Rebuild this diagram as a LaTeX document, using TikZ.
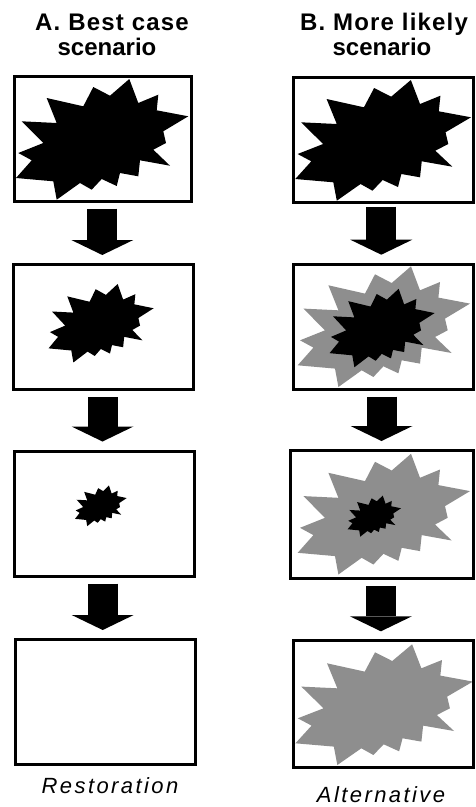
\documentclass[tikz,border=0pt]{standalone}
\usepackage{fontspec}
\setmainfont{Liberation Sans}
\usetikzlibrary{arrows.meta}
\definecolor{burstgray}{RGB}{142,142,142}
\tikzset{
  panel/.style={draw, line width=3pt, minimum width=180pt, minimum height=125pt, inner sep=0pt},
  flow/.style={line width=30pt, -{Triangle[width=62pt,length=15pt,line width=0pt]}, shorten <=6pt, shorten >=8pt},
  titleA/.style={font=\fontsize{24}{26}\selectfont\bfseries\addfontfeature{LetterSpace=5}, anchor=base, inner sep=0pt},
  titleB/.style={font=\fontsize{24}{26}\selectfont\bfseries, anchor=base, inner sep=0pt},
  caption/.style={font=\fontsize{22}{24}\selectfont\itshape\addfontfeature{LetterSpace=11}, anchor=base, inner sep=0pt},
  burst/.pic={\path[pic actions] (-55.3,-41) -- (-18.7,-32.7) -- (-8.7,-52) -- (8,-43.3) -- (27.3,-60) -- (36.3,-36) -- (56.3,-44.3) -- (54.7,-28.7) -- (86.3,-22.7) -- (61.3,-7.7) -- (64,4) -- (51.3,10.7) -- (68,26.7) -- (38,21.3) -- (36.3,37.3) -- (18,34) -- (14.7,47) -- (-0.3,40) -- (-10.3,50.7) -- (-22,44) -- (-45.3,60.7) -- (-48.7,42.3) -- (-86,39) -- (-70.3,21.3) -- (-83.7,14) -- (-58.7,4) -- (-80.3,-17.7) -- (-45.3,-16) -- cycle;}
}
\begin{document}
\begin{tikzpicture}[x=1pt,y=-1pt]
\useasboundingbox (0,0) rectangle (475,807);
\fill[white] (0,0) rectangle (475,807);

% titles
\node[titleA] (tA1) at (112,30.5) {A. Best case};
\node[titleB] (tA2) at (107,55) {scenario};
\node[titleA] (tB1) at (384,30.5) {B. More likely};
\node[titleB] (tB2) at (382,55) {scenario};

% bursts
\pic[fill=black] at (102,139) {burst};
\pic[fill=black, xscale=0.61, yscale=0.65] at (101,323) {burst};
\pic[fill=black, xscale=0.30, yscale=0.337] at (100.8,505.7) {burst};
\pic[fill=black, xscale=1.02] at (383,140) {burst};
\pic[fill=burstgray] at (383.7,326.3) {burst};
\pic[fill=black, xscale=0.61, yscale=0.65] at (382,327.8) {burst};
\pic[fill=burstgray] at (383.7,513.8) {burst};
\pic[fill=black, xscale=0.31, yscale=0.34] at (374.3,516) {burst};
\pic[fill=burstgray, xscale=1.03] at (384,704.3) {burst};

% panels
\node[panel, minimum width=177pt] (a1) at (103.3,138.5) {};
\node[panel] (a2) at (103.5,327) {};
\node[panel] (a3) at (104.7,513.5) {};
\node[panel] (a4) at (105,702) {};
\node[panel] (b1) at (383.3,139.7) {};
\node[panel] (b2) at (383.5,326.7) {};
\node[panel, minimum width=183pt, minimum height=128pt] (b3) at (381.9,514.5) {};
\node[panel, minimum height=127pt] (b4) at (383.5,704.3) {};

% arrows
\draw[flow] ([xshift=-1pt]a1.south) -- ([xshift=-1pt]a1.south |- a2.north);
\draw[flow] ([xshift=-1pt]a2.south) -- ([xshift=-1pt]a2.south |- a3.north);
\draw[flow] ([xshift=-2pt]a3.south) -- ([xshift=-2pt]a3.south |- a4.north);
\draw[flow, shorten <=3pt] ([xshift=-2pt]b1.south) -- ([xshift=-2pt]b1.south |- b2.north);
\draw[flow] ([xshift=-2pt]b2.south) -- ([xshift=-2pt]b2.south |- b3.north);
\draw[flow] ([xshift=-1pt]b3.south) -- ([xshift=-1pt]b3.south |- b4.north);

% captions
\node[caption] (cA) at (110,793.3) {Restoration};
\node[caption] (cB) at (381,802) {Alternative};
\end{tikzpicture}
\end{document}
